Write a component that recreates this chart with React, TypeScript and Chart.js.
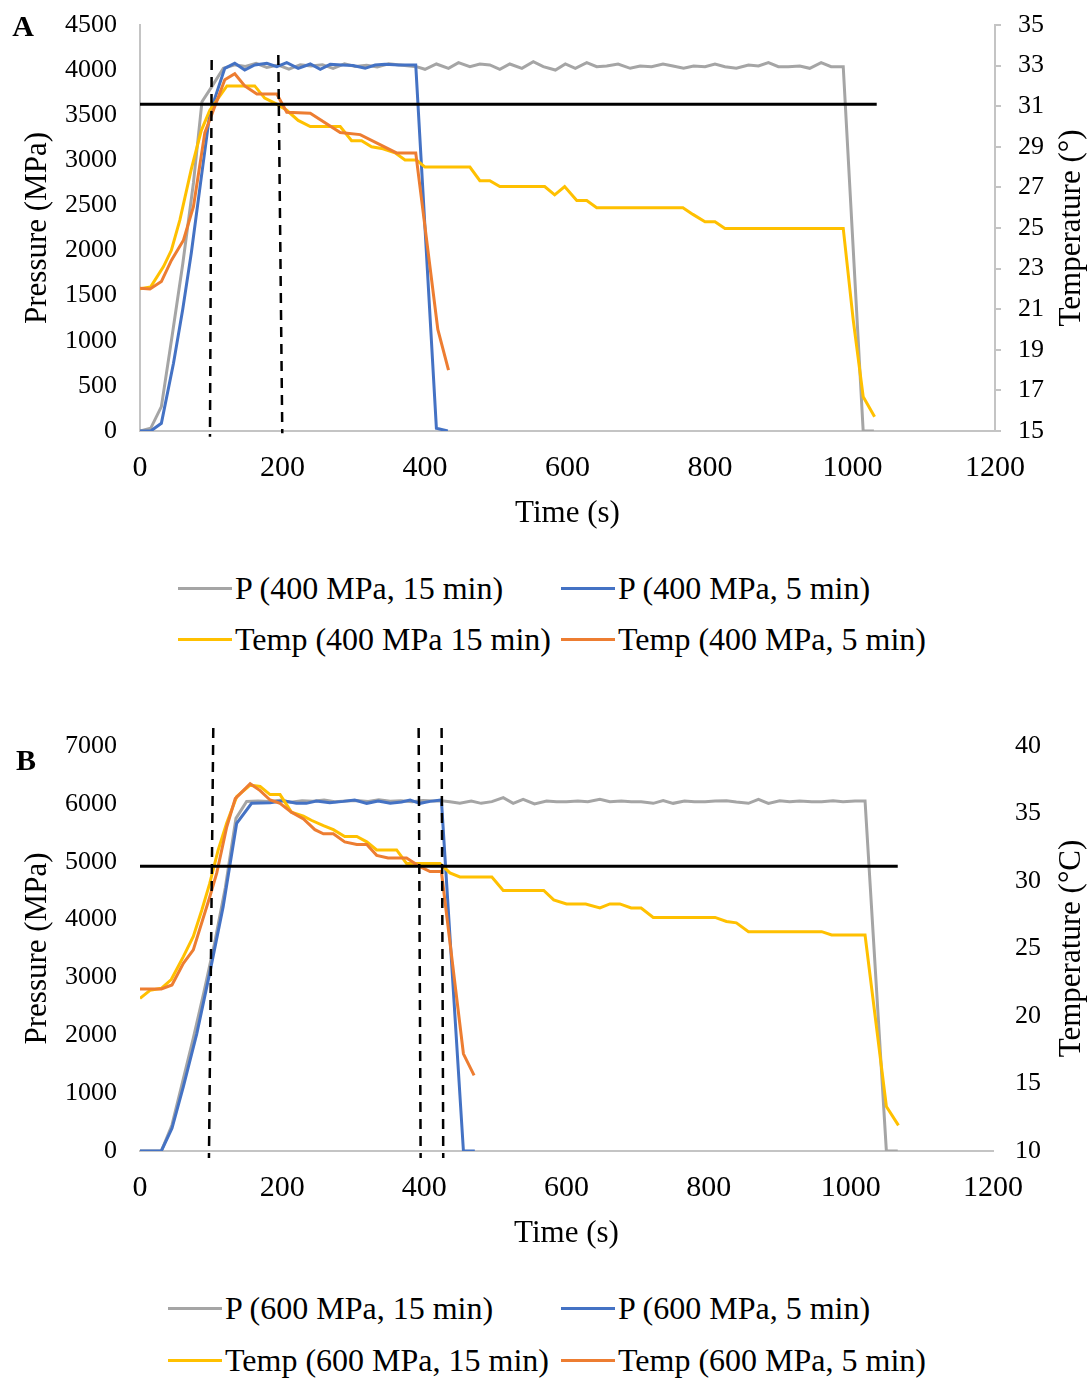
import React, { useEffect, useRef } from "react";
import { Chart, registerables } from "chart.js";

Chart.register(...registerables);

const FONT = "'Liberation Serif', 'Times New Roman', serif";
const GRAY = "#A5A5A5";
const BLUE = "#4472C4";
const YELLOW = "#FFC000";
const ORANGE = "#ED7D31";
const AXIS = "#C4C4C4";

// ---------------- Panel A (400 MPa) ----------------
const xTicksTime = [0, 200, 400, 600, 800, 1000, 1200];

const tA_P15 = [0, 15, 30, 45, 60, 75, 87, 101, 117, 133, 148, 163, 178, 194, 209, 225, 240, 256, 271, 287, 302, 318, 333, 349, 365, 388, 400, 416, 433, 447, 463, 477, 491, 505, 519, 536, 552, 566, 583, 597, 611, 627, 641, 655, 671, 688, 702, 718, 734, 748, 763, 777, 793, 807, 821, 837, 854, 868, 882, 896, 910, 926, 940, 956, 970, 987, 1015, 1030];
const pA_P15 = [0, 30, 270, 1050, 1850, 2750, 3650, 3820, 4020, 4060, 4040, 4075, 4030, 4055, 4010, 4060, 4045, 4060, 4020, 4070, 4040, 4055, 4035, 4070, 4057, 4038, 4009, 4068, 4020, 4083, 4038, 4068, 4057, 4009, 4068, 4020, 4094, 4038, 4001, 4068, 4020, 4083, 4038, 4046, 4068, 4020, 4046, 4038, 4068, 4046, 4020, 4046, 4038, 4068, 4038, 4020, 4057, 4046, 4083, 4038, 4038, 4046, 4020, 4083, 4038, 4038, 0, 0];

const tA_P5 = [0, 15, 30, 47, 60, 72, 85, 98, 119, 133, 147, 161, 178, 192, 206, 222, 239, 253, 267, 283, 299, 316, 330, 344, 363, 387, 416, 432];
const pA_P5 = [0, 0, 85, 750, 1350, 1973, 2750, 3521, 4020, 4076, 4001, 4057, 4076, 4038, 4083, 4020, 4068, 4009, 4064, 4057, 4050, 4020, 4057, 4064, 4057, 4057, 30, 0];

const tA_T15 = [0, 15, 33, 44, 56, 72, 86, 98, 122, 161, 175, 192, 206, 222, 239, 281, 297, 311, 325, 341, 358, 372, 388, 400, 463, 477, 491, 505, 568, 582, 596, 613, 627, 641, 762, 776, 793, 807, 821, 987, 1001, 1015, 1031];
const cA_T15 = [22.0, 22.1, 23.1, 23.9, 25.4, 27.9, 29.8, 30.8, 32.0, 32.0, 31.4, 31.1, 30.8, 30.3, 30.0, 30.0, 29.3, 29.3, 29.0, 28.9, 28.7, 28.35, 28.35, 28.0, 28.0, 27.33, 27.33, 27.04, 27.04, 26.63, 27.04, 26.35, 26.35, 26.0, 26.0, 25.67, 25.31, 25.31, 24.98, 24.98, 20.47, 16.69, 15.7];

const tA_T5 = [0, 14, 30, 44, 61, 75, 91, 103, 119, 133, 147, 164, 192, 206, 239, 281, 309, 360, 387, 418, 433];
const cA_T5 = [22.03, 22.0, 22.36, 23.4, 24.4, 26.05, 29.7, 30.8, 32.3, 32.6, 32.0, 31.6, 31.6, 30.7, 30.65, 29.7, 29.6, 28.7, 28.7, 20.0, 18.0];

const tA_ref = [0, 1034];
const cA_ref = [31.1, 31.1];

const tA_dash1 = [100.6, 98.2];
const pA_dash1 = [4112, -63];
const tA_dash2 = [194.1, 199.7];
const pA_dash2 = [4168, -25];

const pTicksA = [0, 500, 1000, 1500, 2000, 2500, 3000, 3500, 4000, 4500];
const tempTicksA = [15, 17, 19, 21, 23, 25, 27, 29, 31, 33, 35];

// ---------------- Panel B (600 MPa) ----------------
const tB_P15 = [0, 15, 30, 45, 60, 75, 90, 105, 120, 135, 150, 166, 181, 197, 212, 228, 243, 259, 274, 290, 305, 321, 336, 352, 367, 383, 398, 413, 427, 436, 450, 466, 480, 495, 511, 525, 539, 555, 572, 586, 600, 616, 630, 647, 661, 677, 691, 705, 722, 736, 750, 766, 780, 795, 809, 825, 839, 856, 870, 884, 900, 914, 928, 945, 959, 975, 989, 1006, 1020, 1050, 1066];
const pB_P15 = [0, 0, 0, 450, 1200, 1950, 2750, 3600, 4550, 5750, 6040, 6050, 6040, 6060, 6030, 6055, 6045, 6065, 6035, 6050, 6060, 6040, 6070, 6045, 6055, 6035, 6060, 6050, 6049, 6038, 6009, 6049, 6009, 6038, 6107, 6009, 6078, 5998, 6049, 6038, 6038, 6049, 6038, 6078, 6038, 6049, 6038, 6038, 6009, 6055, 6009, 6049, 6038, 6038, 6049, 6055, 6032, 6009, 6078, 6009, 6055, 6038, 6049, 6038, 6038, 6055, 6038, 6049, 6049, 0, 0];

const tB_P5 = [0, 30, 45, 61, 80, 98, 117, 136, 157, 183, 202, 220, 234, 248, 267, 286, 302, 319, 335, 352, 368, 380, 394, 408, 424, 455, 471];
const pB_P5 = [0, 0, 392, 1112, 2034, 3071, 4223, 5663, 6009, 6021, 6055, 6009, 6009, 6049, 6021, 6043, 6066, 6009, 6049, 6009, 6032, 6066, 6009, 6043, 6066, 0, 0];

const tB_T15 = [0, 14, 30, 44, 61, 75, 87, 98, 110, 122, 136, 155, 169, 183, 197, 213, 230, 241, 258, 272, 288, 305, 319, 333, 361, 375, 422, 436, 450, 495, 511, 568, 582, 600, 627, 647, 661, 675, 691, 705, 722, 809, 825, 839, 856, 959, 973, 1020, 1050, 1067];
const cB_T15 = [21.3, 21.9, 22.05, 22.7, 24.4, 25.9, 27.85, 29.8, 32.3, 34.3, 36.25, 37.1, 37.0, 36.4, 36.4, 35.1, 34.8, 34.5, 34.1, 33.8, 33.3, 33.3, 32.9, 32.3, 32.3, 31.3, 31.3, 30.6, 30.3, 30.3, 29.3, 29.3, 28.6, 28.3, 28.3, 28.0, 28.3, 28.3, 28.0, 28.0, 27.3, 27.3, 27.0, 26.9, 26.25, 26.25, 26.0, 26.0, 13.3, 11.9];

const tB_T5 = [0, 30, 45, 61, 75, 98, 108, 122, 134, 155, 169, 183, 197, 213, 230, 246, 258, 272, 288, 305, 319, 333, 349, 375, 394, 408, 424, 455, 470];
const cB_T5 = [22.0, 22.0, 22.3, 23.9, 24.9, 28.8, 30.6, 34.0, 36.1, 37.2, 36.7, 36.0, 35.75, 35.1, 34.6, 33.8, 33.5, 33.5, 32.9, 32.7, 32.7, 31.9, 31.7, 31.7, 31.06, 30.7, 30.7, 17.2, 15.6];

const tB_ref = [0, 1066];
const cB_ref = [31.1, 31.1];

const tB_dash1 = [103.1, 97.0];
const pB_dash1 = [7311, -121];
const tB_dash2 = [392.0, 394.8];
const pB_dash2 = [7311, -121];
const tB_dash3 = [424.3, 426.6];
const pB_dash3 = [7311, -121];

const pTicksB = [0, 1000, 2000, 3000, 4000, 5000, 6000, 7000];
const tempTicksB = [10, 15, 20, 25, 30, 35, 40];

const labelsA = ["P (400 MPa, 15 min)", "P (400 MPa, 5 min)", "Temp (400 MPa 15 min)", "Temp (400 MPa, 5 min)"];
const labelsB = ["P (600 MPa, 15 min)", "P (600 MPa, 5 min)", "Temp (600 MPa, 15 min)", "Temp (600 MPa, 5 min)"];

// ---------------- helpers ----------------
function pts(t: number[], v: number[]) {
  return t.map((x, i) => ({ x, y: v[i] }));
}

function seriesDs(label: string, t: number[], v: number[], color: string, axis: string) {
  return {
    label,
    data: pts(t, v),
    yAxisID: axis,
    borderColor: color,
    backgroundColor: color,
    borderWidth: 3,
    pointRadius: 0,
    tension: 0,
  };
}

function dashDs(t: number[], v: number[]) {
  return {
    label: "",
    data: pts(t, v),
    yAxisID: "y",
    borderColor: "#000",
    borderWidth: 2.5,
    borderDash: [10, 7],
    pointRadius: 0,
    clip: false as any,
  };
}

const plainNum = (v: any) => String(v);

const extraText = {
  id: "extraText",
  afterDraw(chart: any, _args: any, opts: any) {
    const ctx = chart.ctx;
    const ca = chart.chartArea;
    ctx.save();
    ctx.fillStyle = "#000";
    ctx.font = `31px ${FONT}`;
    ctx.textAlign = "center";
    ctx.textBaseline = "middle";
    ctx.translate(opts.rightTitleX, (ca.top + ca.bottom) / 2);
    ctx.rotate(-Math.PI / 2);
    ctx.fillText(opts.rightTitle, 0, 0);
    ctx.restore();
    ctx.save();
    ctx.fillStyle = "#000";
    ctx.font = `bold 30px ${FONT}`;
    ctx.textAlign = "center";
    ctx.textBaseline = "middle";
    ctx.fillText(opts.letter, opts.letterX, opts.letterY);
    ctx.restore();
  },
};

type Spec = {
  height: number;
  padTop: number;
  datasets: any[];
  pTicks: number[];
  tempTicks: number[];
  leftBorder: boolean;
  rightAxisLine: boolean;
  rightWidth: number;
  rightPad: number;
  rightTitle: string;
  letter: string;
  letterX: number;
  letterY: number;
};

function makeConfig(s: Spec): any {
  const pStep = s.pTicks[1] - s.pTicks[0];
  const tStep = s.tempTicks[1] - s.tempTicks[0];
  return {
    type: "line",
    data: { datasets: s.datasets },
    options: {
      responsive: false,
      animation: false,
      events: [],
      layout: { padding: { top: s.padTop, left: 0, right: 0, bottom: 0 } },
      plugins: {
        legend: { display: false },
        tooltip: { enabled: false },
        extraText: {
          rightTitle: s.rightTitle,
          rightTitleX: 1072,
          letter: s.letter,
          letterX: s.letterX,
          letterY: s.letterY,
        },
      },
      scales: {
        x: {
          type: "linear",
          min: xTicksTime[0],
          max: xTicksTime[xTicksTime.length - 1],
          ticks: {
            stepSize: xTicksTime[1] - xTicksTime[0],
            font: { family: FONT, size: 30 },
            color: "#000",
            padding: 19,
            maxRotation: 0,
            callback: plainNum,
          },
          grid: { display: false, drawTicks: false },
          border: { display: true, color: AXIS, width: 2 },
          title: {
            display: true,
            text: "Time (s)",
            font: { family: FONT, size: 31 },
            color: "#000",
            padding: { top: 0, bottom: 13 },
          },
          afterFit: (sc: any) => {
            sc.height = 114;
            sc.paddingLeft = 0;
            sc.paddingRight = 0;
          },
        },
        y: {
          type: "linear",
          position: "left",
          min: s.pTicks[0],
          max: s.pTicks[s.pTicks.length - 1],
          ticks: {
            stepSize: pStep,
            font: { family: FONT, size: 26 },
            color: "#000",
            padding: 23,
            callback: plainNum,
          },
          grid: { display: false, drawTicks: false },
          border: { display: s.leftBorder, color: AXIS, width: 2 },
          title: {
            display: true,
            text: "Pressure (MPa)",
            font: { family: FONT, size: 31 },
            color: "#000",
            padding: { top: 19, bottom: 0 },
          },
          afterFit: (sc: any) => {
            sc.width = 140;
            sc.paddingTop = 0;
            sc.paddingBottom = 0;
          },
        },
        yT: {
          type: "linear",
          position: "right",
          min: s.tempTicks[0],
          max: s.tempTicks[s.tempTicks.length - 1],
          ticks: {
            stepSize: tStep,
            font: { family: FONT, size: 26 },
            color: "#000",
            padding: s.rightPad,
            callback: plainNum,
          },
          grid: {
            display: s.rightAxisLine,
            drawOnChartArea: false,
            drawTicks: s.rightAxisLine,
            tickLength: 6,
            color: AXIS,
            lineWidth: 2,
          },
          border: { display: s.rightAxisLine, color: AXIS, width: 2 },
          afterFit: (sc: any) => {
            sc.width = s.rightWidth;
            sc.paddingTop = 0;
            sc.paddingBottom = 0;
          },
        },
      },
    },
    plugins: [extraText],
  };
}

const specA: Spec = {
  height: 545,
  padTop: 25,
  datasets: [
    dashDs(tA_dash1, pA_dash1),
    dashDs(tA_dash2, pA_dash2),
    { ...seriesDs("", tA_ref, cA_ref, "#000", "yT") },
    seriesDs(labelsA[3], tA_T5, cA_T5, ORANGE, "yT"),
    seriesDs(labelsA[2], tA_T15, cA_T15, YELLOW, "yT"),
    seriesDs(labelsA[1], tA_P5, pA_P5, BLUE, "y"),
    seriesDs(labelsA[0], tA_P15, pA_P15, GRAY, "y"),
  ],
  pTicks: pTicksA,
  tempTicks: tempTicksA,
  leftBorder: true,
  rightAxisLine: true,
  rightWidth: 96,
  rightPad: 17,
  rightTitle: "Temperature (°)",
  letter: "A",
  letterX: 23,
  letterY: 28,
};

const specB: Spec = {
  height: 585,
  padTop: 66,
  datasets: [
    dashDs(tB_dash1, pB_dash1),
    dashDs(tB_dash2, pB_dash2),
    dashDs(tB_dash3, pB_dash3),
    { ...seriesDs("", tB_ref, cB_ref, "#000", "yT") },
    seriesDs(labelsB[3], tB_T5, cB_T5, ORANGE, "yT"),
    seriesDs(labelsB[2], tB_T15, cB_T15, YELLOW, "yT"),
    seriesDs(labelsB[1], tB_P5, pB_P5, BLUE, "y"),
    seriesDs(labelsB[0], tB_P15, pB_P15, GRAY, "y"),
  ],
  pTicks: pTicksB,
  tempTicks: tempTicksB,
  leftBorder: false,
  rightAxisLine: false,
  rightWidth: 98,
  rightPad: 22,
  rightTitle: "Temperature (°C)",
  letter: "B",
  letterX: 26,
  letterY: 82,
};

function ChartPanel({ spec, top }: { spec: Spec; top: number }) {
  const ref = useRef<HTMLCanvasElement | null>(null);
  useEffect(() => {
    if (!ref.current) return;
    const chart = new Chart(ref.current, makeConfig(spec));
    return () => chart.destroy();
  }, [spec]);
  return (
    <canvas
      ref={ref}
      width={1091}
      height={spec.height}
      style={{ position: "absolute", left: 0, top, width: 1091, height: spec.height, display: "block" }}
    />
  );
}

type LegendItem = { label: string; color: string; left: number; cy: number };

function Legend({ items }: { items: LegendItem[] }) {
  return (
    <>
      {items.map((it, i) => (
        <div
          key={i}
          style={{
            position: "absolute",
            left: it.left,
            top: it.cy - 20,
            height: 40,
            display: "flex",
            alignItems: "center",
            whiteSpace: "nowrap",
            fontFamily: FONT,
            fontSize: 32,
            color: "#000",
            lineHeight: "40px",
          }}
        >
          <span style={{ display: "inline-block", width: 54, height: 3, background: it.color, marginRight: 3 }} />
          <span>{it.label}</span>
        </div>
      ))}
    </>
  );
}

const legendA: LegendItem[] = [
  { label: labelsA[0], color: GRAY, left: 178, cy: 588 },
  { label: labelsA[1], color: BLUE, left: 561, cy: 588 },
  { label: labelsA[2], color: YELLOW, left: 178, cy: 639 },
  { label: labelsA[3], color: ORANGE, left: 561, cy: 639 },
];

const legendB: LegendItem[] = [
  { label: labelsB[0], color: GRAY, left: 168, cy: 1308 },
  { label: labelsB[1], color: BLUE, left: 561, cy: 1308 },
  { label: labelsB[2], color: YELLOW, left: 168, cy: 1360 },
  { label: labelsB[3], color: ORANGE, left: 561, cy: 1360 },
];

export default function App() {
  useEffect(() => {
    document.body.style.margin = "0";
    document.body.style.background = "#fff";
  }, []);
  return (
    <div style={{ position: "relative", width: 1091, height: 1378, background: "#fff", overflow: "hidden" }}>
      <ChartPanel spec={specA} top={0} />
      <Legend items={legendA} />
      <ChartPanel spec={specB} top={680} />
      <Legend items={legendB} />
    </div>
  );
}
